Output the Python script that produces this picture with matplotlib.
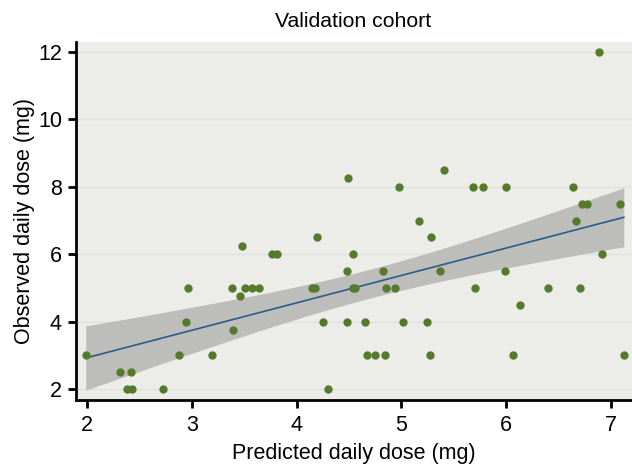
import numpy as np
import matplotlib.pyplot as plt

plt.rcParams['font.family'] = ['Liberation Sans', 'DejaVu Sans']

# --- datos ---
predicted = [1.99, 2.32, 2.42, 2.38, 2.43, 2.73, 2.88, 2.95, 2.96, 3.19,
             3.39, 3.38, 3.46, 3.48, 3.51, 3.57, 3.64, 3.77, 3.81, 4.19,
             4.15, 4.18, 4.25, 4.30, 4.48, 4.48, 4.49, 4.54, 4.54, 4.56,
             4.65, 4.67, 4.75, 4.84, 4.82, 4.85, 4.94, 4.98, 5.01, 5.17,
             5.24, 5.27, 5.28, 5.37, 5.41, 5.68, 5.70, 5.78, 5.99, 6.00,
             6.06, 6.13, 6.40, 6.64, 6.66, 6.70, 6.72, 6.77, 6.88, 6.91,
             7.08, 7.12]
observed = [3, 2.5, 2.5, 2, 2, 2, 3, 4, 5, 3,
            3.75, 5, 4.75, 6.25, 5, 5, 5, 6, 6, 6.5,
            5, 5, 4, 2, 4, 5.5, 8.25, 6, 5, 5,
            4, 3, 3, 3, 5.5, 5, 5, 8, 4, 7,
            4, 3, 6.5, 5.5, 8.5, 8, 5, 8, 5.5, 8,
            3, 4.5, 5, 8, 7, 5, 7.5, 7.5, 12, 6,
            7.5, 3]
x_ticks = [2, 3, 4, 5, 6, 7]
y_ticks = [2, 4, 6, 8, 10, 12]

x = np.array(predicted)
y = np.array(observed)

# --- ajuste lineal + IC 95% de la media ---
n = len(x)
b1, b0 = np.polyfit(x, y, 1)
resid = y - (b0 + b1 * x)
s = np.sqrt(np.sum(resid**2) / (n - 2))
sxx = np.sum((x - x.mean())**2)
xs = np.linspace(x.min(), x.max(), 200)
fit = b0 + b1 * xs
se = s * np.sqrt(1 / n + (xs - x.mean())**2 / sxx)
t = 1.999
lo, hi = fit - t * se, fit + t * se

fig = plt.figure(figsize=(6.32, 4.67), dpi=100)
ax = fig.add_axes([0.12, 0.1435, 0.88, 0.7665])
ax.set_facecolor('#ecece9')

ax.fill_between(xs, lo, hi, color='#bdbdbb', lw=0, zorder=2)
ax.plot(xs, fit, color='#2d5b88', lw=1.2, zorder=3)
ax.scatter(x, y, s=36, color='#567a2c', lw=0, zorder=4)

ax.set_xlim(1.895, 7.198)
ax.set_ylim(1.68, 12.29)
ax.set_xticks(x_ticks)
ax.set_yticks(y_ticks)
ax.yaxis.grid(True, color='#dce3df', lw=1)
ax.set_axisbelow(True)

for side in ['top', 'right']:
    ax.spines[side].set_visible(False)
for side in ['left', 'bottom']:
    ax.spines[side].set_linewidth(2)
ax.tick_params(length=6, width=2, labelsize=15.5, colors='black', pad=4)
ax.tick_params(axis='x', pad=5)

ax.set_xlabel('Predicted daily dose (mg)', fontsize=15.5, labelpad=5)
ax.set_ylabel('Observed daily dose (mg)', fontsize=15.5, labelpad=2)
fig.text(0.558, 0.955, 'Validation cohort', ha='center', va='center', fontsize=15.3)

fig.savefig('out.png', dpi=100)
